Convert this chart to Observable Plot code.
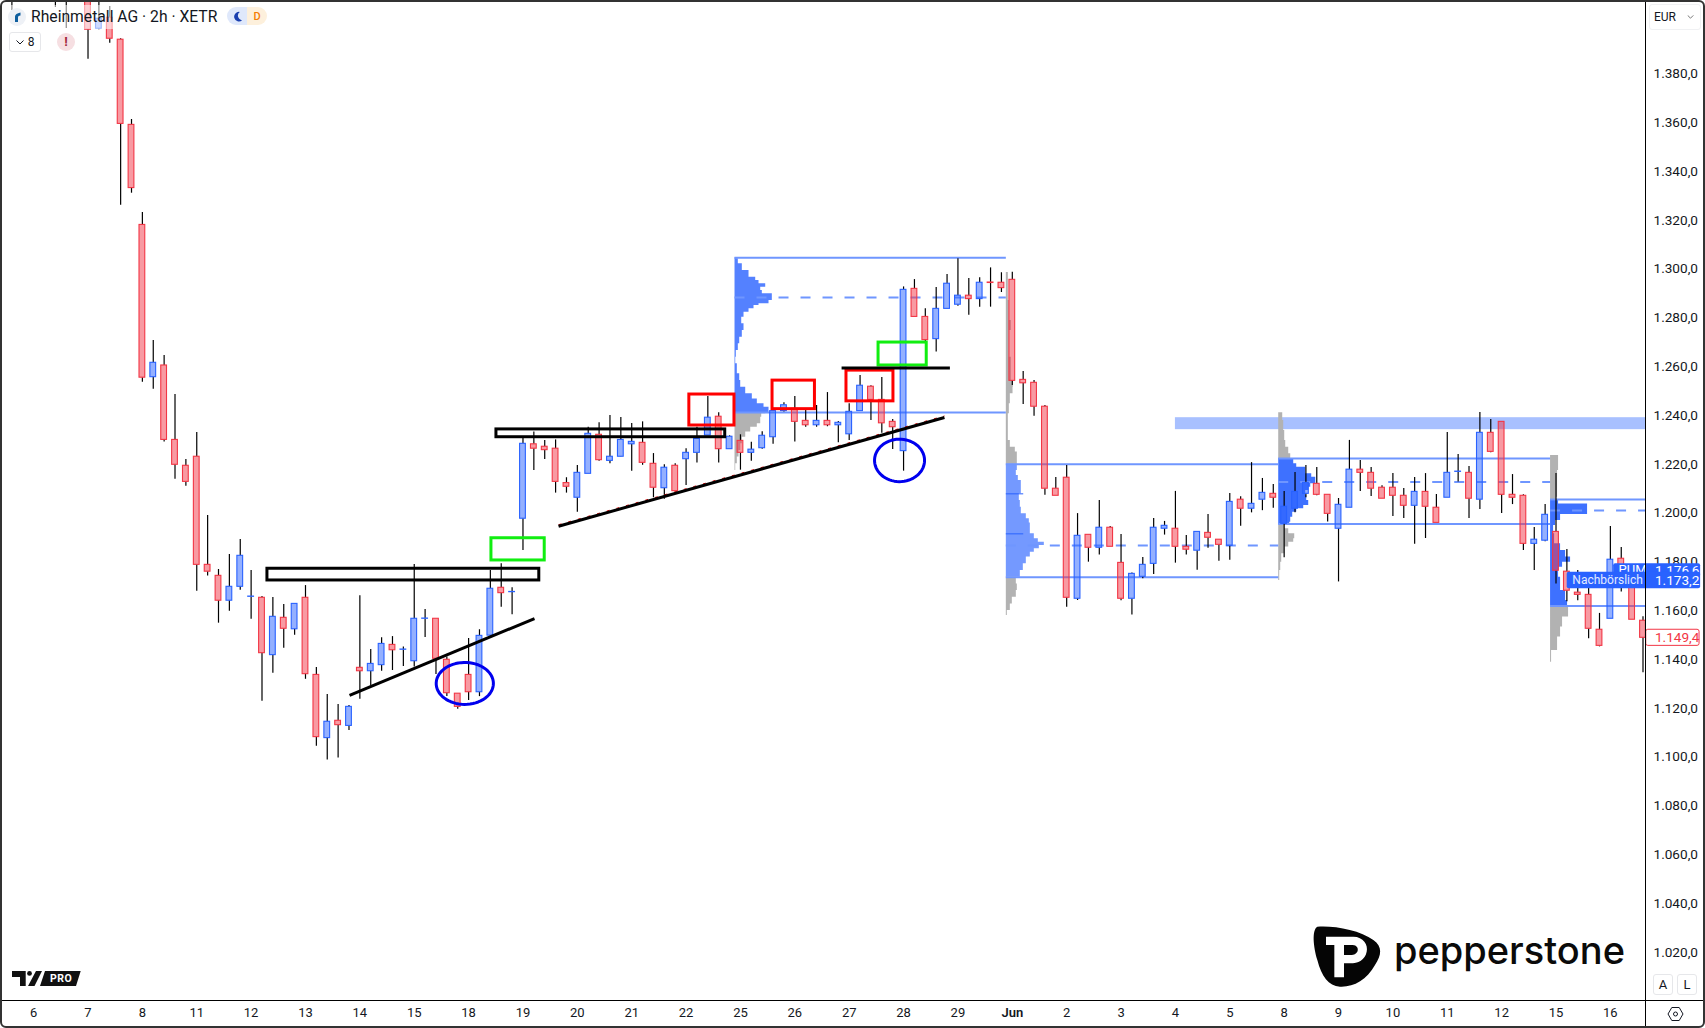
<!DOCTYPE html>
<html><head><meta charset="utf-8">
<script src="https://cdn.jsdelivr.net/npm/d3@7"></script>
<script src="https://cdn.jsdelivr.net/npm/@observablehq/plot@0.6"></script>
<style>
html,body{margin:0;padding:0;background:#fff;overflow:hidden}
#wrap{position:relative;width:1705px;height:1028px;font-family:Roboto,sans-serif;color:#131722}
#wrap svg.plot{display:block}
.abs{position:absolute}
.frame{left:0;top:0;width:1705px;height:1028px;box-sizing:border-box;border:2px solid #333;border-radius:6px;pointer-events:none}
.btn{border:1px solid #e6e7ea;border-radius:3px;box-sizing:border-box;display:flex;align-items:center;justify-content:center;background:#fff}
</style></head><body><div id="wrap"></div>
<script>
// ---------- candle data (EUR) ----------
const bars=[0,4,5,...d3.range(7,151)];
const opens=[1422,1420,1420,1415,
1398.5,1403,1394,1359.1,1318.1,1255.7,1260.5,1230,1219.4,1223.1,1178.8,1174.3,1164.1,1169.8,1165.7,1165.3,1141.8,1157.1,1152.4,1165.3,1133.7,1107.8,1114.9,1112.8,1136.6,1135.2,1137.7,1146,1144,1139.3,1156.7,1156.7,1139.9,1126,1133.7,1126.6,1149.8,1169.4,1167.6,1197.7,1228.2,1227.2,1226.4,1212.3,1206.3,1216.1,1232.1,1221.4,1223.1,1228.2,1228.8,1220.2,1210.2,1219.4,1222.1,1224.7,1231.8,1239.5,1226.2,1229.6,1224.7,1226.6,1231.1,1241.8,1242.7,1237.8,1236,1237.8,1236,1232.3,1241.8,1251.8,1246.4,1237.4,1225.4,1291.9,1280.4,1271.3,1283.7,1285.4,1289.1,1287.7,1294.5,1294.4,1295.6,1254.6,1253.4,1243.6,1210,1214.5,1164.9,1191.1,1185.8,1194,1179.6,1164.9,1173.9,1179.2,1193.6,1193.6,1186.2,1184.6,1191.9,1189.1,1186.6,1205.5,1201.8,1205.5,1207.9,1195.6,1201.8,1207.9,1212,1207.5,1193.6,1202.2,1217.8,1216.5,1210.4,1210.4,1207.1,1203,1208.7,1202.2,1206.3,1216.9,1216.5,1205.5,1232.9,1237.4,1207.5,1207.1,1187.4,1188.7,1192.3,1176,1167.4,1166.5,1152.2,1156.7,1181.3,1173.6,1155.9];
const closes=[1414,1412,1414,1398.1,
1402.6,1394.4,1359.5,1333.2,1255.5,1261.6,1230,1219.8,1212.8,1178.8,1176,1164.1,1169.8,1182.5,1165.8,1142.6,1157.5,1152.6,1162.8,1134,1108.2,1114.5,1113.1,1120.6,1135.2,1138.2,1146.4,1143.8,1144.1,1156.7,1156.8,1140.3,1126.2,1120.6,1126.6,1149.7,1169,1167.2,1167.7,1228.4,1226.4,1225.8,1212.8,1210.8,1216.5,1232.5,1221.7,1223.1,1230,1229.2,1220.6,1210.4,1218.6,1209,1224.7,1230.4,1239.1,1226.2,1231.3,1224.7,1226,1231.7,1241.8,1244.2,1237.4,1236,1237.8,1236,1237,1241.5,1252.2,1246.4,1236.8,1235.2,1291.5,1280.4,1270.9,1283.7,1294,1289.1,1287.7,1294.4,1294.3,1292.2,1254.2,1253.2,1243.6,1210,1207.1,1165.3,1190.7,1185.8,1194,1186.2,1164.9,1175.1,1178.8,1194,1194.8,1186.2,1185,1192.3,1189.9,1187,1204.6,1201.8,1203.8,1208.3,1206.3,1202.6,1208.7,1212.4,1207.5,1199.7,1203.4,1217.8,1216.5,1210,1205.9,1207.1,1203,1208.7,1202.6,1196,1216.5,1217,1205.9,1232.9,1225.1,1207.5,1206.3,1187.4,1189.1,1199.3,1176.4,1168.2,1166.5,1152.6,1145.6,1180.9,1174.4,1156.3,1148.9];
const highs=[1425,1425,1425,1425,
1425,1407.6,1394.4,1361.3,1323.2,1270.7,1264.6,1248.6,1222,1233,1199,1176.9,1183,1189.2,1176.5,1165.8,1165.4,1162.6,1162.8,1170.3,1136.7,1125.7,1121.6,1121.2,1166.1,1144.1,1148.9,1149.4,1145.1,1178.9,1160.5,1156.7,1141,1126,1148.6,1152.2,1176.5,1179.2,1169.4,1231.1,1233.2,1229.8,1230,1214.5,1219.5,1235.2,1237,1240,1239.2,1236.7,1237.4,1224.4,1219.8,1220.2,1226.4,1235.2,1247.8,1241.1,1231.7,1232.1,1229,1233.3,1241.8,1245.2,1247.8,1242.1,1244.1,1249.4,1237.5,1244.8,1256.4,1252.2,1255.6,1238.4,1292.7,1295.7,1283.7,1292.5,1297.8,1304.2,1296.1,1296.5,1300.5,1298.5,1298.7,1258,1254.3,1244.1,1214.6,1219.5,1199.8,1191.1,1205.2,1194.5,1191.2,1175.5,1181.8,1197.8,1196.6,1208.9,1190.8,1192.3,1199.4,1189.1,1208,1206.7,1220.7,1214.2,1211.7,1208.9,1216.6,1219.5,1218.7,1207.5,1206,1229.8,1221.6,1218.7,1211.2,1216.2,1210.1,1214.6,1216.2,1207.6,1233,1224,1219.1,1241.2,1238.4,1237.4,1215.8,1207.5,1194.1,1203.5,1216.2,1185.1,1176.5,1169.6,1158.9,1194.5,1185.9,1173.6,1157.5];
const lows=[1406,1407.2,1398.6,1386,
1398.1,1392.6,1326.2,1331.1,1253.6,1250.8,1229.1,1213.9,1211,1168,1174.2,1154.9,1159.8,1168.4,1156.5,1122.9,1134.4,1144.6,1150,1131.9,1104.5,1098.8,1099.6,1110.9,1123.7,1129.4,1135.2,1135.5,1137.1,1136.9,1149,1133.9,1124.8,1119.6,1123.2,1124.8,1149.8,1161.4,1158.4,1184.7,1217.5,1222,1208.2,1208.2,1200.4,1216.1,1221.3,1220.2,1223,1217.2,1219.6,1206.3,1205.7,1209,1211.3,1220.5,1231.8,1220.5,1226.2,1217.6,1221.3,1226.2,1228.2,1241.4,1229.1,1235.2,1235.2,1235.4,1228.8,1229.8,1241.8,1238,1232.7,1226.1,1217.2,1280.4,1270.3,1266,1283.7,1284.8,1281.1,1284.4,1284.4,1290.4,1252.3,1244.5,1239.7,1207.3,1207.1,1161.4,1164.2,1179.9,1182.8,1186.2,1164.1,1158.2,1173.1,1174.8,1191,1179.5,1182.8,1176.6,1185.6,1180.3,1180.7,1194.6,1200.1,1201,1202,1181.7,1200.1,1206.3,1207.1,1196.4,1171.8,1202.2,1208.9,1206.8,1205.9,1198.6,1197.8,1187.2,1189.6,1196,1206.3,1212.8,1197.8,1201.5,1224.7,1199.8,1203.5,1184.7,1176.5,1188.3,1171,1163.7,1164.1,1148.5,1145.2,1156.7,1167.7,1156.3,1134.6];

// ---------- axes ----------
const dayLabels=["6","7","8","11","12","13","14","15","18","19","20","21","22","25","26","27","28","29","Jun","2","3","4","5","8","9","10","11","12","15","16"];
const dayBars=dayLabels.map((_,k)=>2+5*k);
const priceTicks=d3.range(1020,1381,20);

// ---------- volume profiles: price rows and volume ----------
const p1AnchorBar=66.5, p1High=1304.6, p1Low=1241.2, p1Poc=1288.4, p1EndBar=91.45;
const p1BluePrices=[1304.6,1304.2,1302.2,1299.4,1296.7,1295.3,1294,1292.6,1291.2,1289.9,1288.5,1287.1,1285.8,1285.1,1283.7,1282.3,1280.3,1277.6,1274.8,1272.1,1269.4,1266.6,1263.9,1261.2,1257.1,1254.3,1251.6,1248.9,1246.8,1244.8,1243.4,1242.1,1241.2];
const p1BlueVols=[1,1.7,3.3,7.3,14,20.7,24,30.7,25.7,27.3,37.3,37.3,34,24,19,14,9,6.7,9,7.3,4.7,3.3,1.3,.7,2.3,4.7,5.7,10.7,17.3,22.3,29,34,34];
const p1GrayPrices=[1241.2,1240.7,1239.3,1237.9,1236.6,1235.2,1233.2,1231.1,1228.4,1225.7,1223,1220.2,1217.5];
const p1GrayVols=[34,30.7,26.7,25.7,25.7,22.3,15.7,10.7,7.3,5.7,4,2.3,.7];

const p2AnchorBar=91.45, p2High=1220, p2Low=1173.7, p2Poc=1186.7, p2EndBar=116.5;
const p2InnerRows=[1207.9,1191.5];
const p2GrayTopPrices=[1298.6,1295.3,1287.1,1283,1278.9,1274.8,1269.5,1263.9,1258.4,1254.3,1251.6,1248.9,1244.8,1240.7,1235.2,1229.8,1227,1225,1222.3,1220];
const p2GrayTopVols=[1,2,2,3,3,5,3,3,5,5,7,6.7,4,3,2,2,4,9,11,11];
const p2BluePrices=[1220,1217.5,1215.4,1213.4,1210.6,1207.9,1205.2,1202.4,1199.7,1197.7,1196,1193.6,1191.5,1189.5,1188.1,1186.7,1185.4,1184,1182,1179.2,1176.5,1173.7];
const p2BlueVols=[11,11,10,12,15,15,13,14,15,20,23,24,24,28,32,38,33,28,24,20,17,14];
const p2GrayBotPrices=[1173.7,1171,1168.3,1165.5,1162.8,1160.1,1158];
const p2GrayBotVols=[8,10,11,10,6,4,1];

const p3AnchorBar=116.5, p3High=1222.4, p3Low=1195.5, p3Poc=1212.7, p3EndBar=141.5;
const p3GrayTopPrices=[1241.1,1238,1233.9,1229.8,1227,1224.3,1222.4];
const p3GrayTopVols=[1,4,5,6,7,10,12];
const p3BluePrices=[1222.4,1220.2,1218.8,1217.5,1216.1,1214.7,1213.4,1212,1210.6,1209.3,1207.2,1205.2,1203.1,1201.8,1200.4,1198.3,1196.3,1195.3];
const p3BlueVols=[12,15,18,27,27,33,37,37,32,30,27,28,30,25,18,14,12,11];
const p3GrayBotPrices=[1195.3,1193.6,1191.5,1189.5,1188.1,1186.1,1183.3,1179.9,1176.5,1172.4];
const p3GrayBotVols=[5,6,10,16,15,10,6,3,2,1];

const p4AnchorBar=141.5, p4High=1205.6, p4Low=1161.9, p4Poc=1201.1;
const p4GrayTopPrices=[1223.6,1217.5,1212.1,1206.5,1205.6];
const p4GrayTopVols=[5,8,7,7,6];
const p4BluePrices=[1205.6,1203.7,1203.6,1199.4,1199,1197,1194.9,1191.5,1187.4,1184.7,1182,1179.9,1177.8,1173.7,1168.3,1164.2,1161.9];
const p4BlueVols=[8,8,37,37,10,10,5,3,4,10,15,20,12,8,10,15,17];
const p4GrayBotPrices=[1161.5,1158.7,1157.4,1153.3,1149.2,1143.7,1138.9];
const p4GrayBotVols=[12,18,18,12,10,7,1];

// ---------- annotations drawn on the chart ----------
const blackBoxes=[{x1:23.5,x2:48.5,y1:1177.2,y2:1172.4},{x1:44.56,x2:65.6,y1:1234.3,y2:1231.1}];
const greenBoxes=[{x1:44.1,x2:49,y1:1189.7,y2:1180.6},{x1:79.7,x2:84.13,y1:1269.9,y2:1260.5}];
const redBoxes=[{x1:62.3,x2:66.45,y1:1248.6,y2:1235.9},{x1:69.95,x2:73.85,y1:1254.3,y2:1242.6},{x1:76.75,x2:81.07,y1:1258.4,y2:1245.8}];
const trendLines=[{x1:31.05,y1:1125.3,x2:48.06,y2:1156.8},{x1:50.27,y1:1194.6,x2:85.76,y2:1239.2},{x1:76.3,y1:1259.5,x2:86.26,y2:1259.5}];
const redTrendLines=[{x1:50.27,y1:1194.6,x2:85.76,y2:1239.2}];
const ellipses=[{cx:41.65,cy:1130.2,rx:2.63,ry:8.6},{cx:81.63,cy:1221.6,rx:2.3,ry:8.7}];
const zoneBand={x1:107,x2:150.23,y1:1239.1,y2:1234.2};

// ---------- helpers ----------
const candles=bars.map((b,i)=>({bar:b,open:opens[i],close:closes[i],high:highs[i],low:lows[i],up:closes[i]>=opens[i]}));
const fmt=d3.formatLocale({decimal:",",thousands:".",grouping:[3],currency:["","€"]}).format(",.1f");
const VOL_SCALE=1/10.874;   // volume unit to bar units
const BLUE="#2962ff", RED="#f23645", LEVEL="#6f96ff", GRAY="#b2b2b2";

function profile(prices,vols,anchor,fill,opacity){
  const rows=prices.map((p,i)=>({p,v:vols[i]}));
  return Plot.areaX(rows,{y:"p",x1:()=>anchor,x2:d=>anchor+d.v*VOL_SCALE,fill,fillOpacity:opacity,curve:"step-after",clip:true});
}
function levels(x1,x2,hi,lo,poc){
  return [
    Plot.ruleY([hi,lo],{x1,x2,stroke:LEVEL,strokeWidth:2,clip:true}),
    Plot.ruleY([poc],{x1,x2,stroke:LEVEL,strokeWidth:2,strokeDasharray:"10 12",clip:true})
  ];
}
function ellipsePoints(e){
  return d3.range(0,2*Math.PI+0.05,0.1).map(t=>({x:e.cx+e.rx*Math.cos(t),y:e.cy+e.ry*Math.sin(t)}));
}

const chart=Plot.plot({
  width:1705,height:1028,marginLeft:2,marginRight:60,marginTop:2,marginBottom:28,
  style:{fontFamily:"Roboto,sans-serif",fontSize:"13px",color:"#131722",background:"transparent",overflow:"visible"},
  x:{domain:[-0.864,150.23],axis:null},
  y:{domain:[1000.27,1409.25],axis:null},
  marks:[
    Plot.axisX(dayBars.filter((_,k)=>dayLabels[k]!=="Jun"),{anchor:"bottom",tickSize:0,tickPadding:7,fontSize:13,label:null,
      tickFormat:d=>dayLabels[(d-2)/5]}),
    Plot.axisX([92],{anchor:"bottom",tickSize:0,tickPadding:7,fontSize:13,fontWeight:600,label:null,tickFormat:()=>"Jun"}),
    Plot.axisY(priceTicks,{anchor:"right",tickSize:0,tickPadding:8,fontSize:13.6,label:null,tickFormat:fmt}),

    // horizontal zone
    Plot.rect([zoneBand],{x1:"x1",x2:"x2",y1:"y1",y2:"y2",fill:"#a8c0ff"}),

    // volume profiles
    profile(p1GrayPrices,p1GrayVols,p1AnchorBar,GRAY,1),
    profile(p1BluePrices,p1BlueVols,p1AnchorBar,BLUE,.8),
    profile(p2GrayTopPrices,p2GrayTopVols,p2AnchorBar,GRAY,1),
    profile(p2BluePrices,p2BlueVols,p2AnchorBar,BLUE,.65),
    profile(p2GrayBotPrices,p2GrayBotVols,p2AnchorBar,GRAY,1),
    profile(p3GrayTopPrices,p3GrayTopVols,p3AnchorBar,GRAY,1),
    profile(p3BluePrices,p3BlueVols,p3AnchorBar,BLUE,.9),
    profile(p3GrayBotPrices,p3GrayBotVols,p3AnchorBar,GRAY,1),
    profile(p4GrayTopPrices,p4GrayTopVols,p4AnchorBar,GRAY,1),
    profile(p4BluePrices,p4BlueVols,p4AnchorBar,BLUE,.9),
    profile(p4GrayBotPrices,p4GrayBotVols,p4AnchorBar,GRAY,1),
    Plot.ruleY(p2InnerRows,{x1:p2AnchorBar,x2:p2AnchorBar+1.6,stroke:BLUE,strokeWidth:1}),

    // levels
    ...levels(p1AnchorBar,p1EndBar,p1High,p1Low,p1Poc),
    ...levels(p2AnchorBar,p2EndBar,p2High,p2Low,p2Poc),
    ...levels(p3AnchorBar,p3EndBar,p3High,p3Low,p3Poc),
    ...levels(p4AnchorBar,150.23,p4High,p4Low,p4Poc),

    // candles: wicks then bodies
    Plot.ruleX(candles,{x:"bar",y1:"high",y2:d=>Math.max(d.open,d.close),stroke:"#000",strokeWidth:1.2,clip:true}),
    Plot.ruleX(candles,{x:"bar",y1:"low",y2:d=>Math.min(d.open,d.close),stroke:"#000",strokeWidth:1.2,clip:true}),
    Plot.rect(candles,{x1:d=>d.bar-0.265,x2:d=>d.bar+0.265,y1:"open",y2:"close",
      fill:d=>d.up?BLUE:RED,fillOpacity:.5,stroke:d=>d.up?BLUE:RED,strokeWidth:1.1,clip:true}),

    // annotations
    Plot.rect(blackBoxes,{x1:"x1",x2:"x2",y1:"y1",y2:"y2",fill:"none",stroke:"#000",strokeWidth:3}),
    Plot.rect(greenBoxes,{x1:"x1",x2:"x2",y1:"y1",y2:"y2",fill:"none",stroke:"#11ee11",strokeWidth:3}),
    Plot.rect(redBoxes,{x1:"x1",x2:"x2",y1:"y1",y2:"y2",fill:"none",stroke:"#ff0000",strokeWidth:3}),
    Plot.link(redTrendLines,{x1:"x1",y1:"y1",x2:"x2",y2:"y2",stroke:"#e00000",strokeWidth:1,strokeDasharray:"3 7",dy:-1.6}),
    Plot.link(trendLines,{x1:"x1",y1:"y1",x2:"x2",y2:"y2",stroke:"#000",strokeWidth:3}),
    Plot.line(ellipsePoints(ellipses[0]),{x:"x",y:"y",stroke:"#0000ee",strokeWidth:3,curve:"linear"}),
    Plot.line(ellipsePoints(ellipses[1]),{x:"x",y:"y",stroke:"#0000ee",strokeWidth:3,curve:"linear"}),

    // price tags on the axis
    Plot.rect([{}],{x1:147.3,x2:155.3,y1:1179.2,y2:1173.6,fill:BLUE,rx:2}),
    Plot.text(["PUM"],{x:147.75,y:1176.6,textAnchor:"start",fill:"#fff",fontSize:13}),
    Plot.text([fmt(1176.6)],{x:151.1,y:1176.6,textAnchor:"start",fill:"#fff",fontSize:13.6}),
    Plot.rect([{}],{x1:143.03,x2:155.3,y1:1175.8,y2:1169,fill:BLUE,rx:2}),
    Plot.text(["Nachbörslich"],{x:143.5,y:1172.4,textAnchor:"start",fill:"#e3ebff",fontSize:12}),
    Plot.text([fmt(1173.2)],{x:151.1,y:1172.4,textAnchor:"start",fill:"#fff",fontSize:13.6}),
    Plot.rect([{}],{x1:150.3,x2:155.2,y1:1152.2,y2:1145.6,fill:"#fff",stroke:RED,rx:2}),
    Plot.text([fmt(1149.4)],{x:151.1,y:1148.9,textAnchor:"start",fill:RED,fontSize:13.6})
  ]
});
const wrap=document.getElementById("wrap");
wrap.appendChild(chart);

// chart furniture above the plot
wrap.insertAdjacentHTML("beforeend",`
<div class="abs" style="left:1645px;top:2px;width:1px;height:1024px;background:#000"></div>
<div class="abs" style="left:2px;top:1000px;width:1701px;height:1px;background:#000"></div>

<div class="abs" style="left:6px;top:5px;width:262px;height:24px;background:rgba(255,255,255,.55);border-radius:4px"></div>
<svg class="abs" style="left:8px;top:8px" width="18" height="18" viewBox="0 0 18 18"><circle cx="9" cy="9" r="9" fill="#eef1f6"/><path d="M7 14V8.5C7 6.5 9 5.2 12.5 4.5V7.5C10.8 7.8 10 8.2 10 9.5V14Z" fill="#0f5f9e"/></svg>
<div class="abs" style="left:31px;top:7px;font-size:15.7px;line-height:20px;white-space:nowrap">Rheinmetall AG · 2h · XETR</div>
<div class="abs" style="left:227px;top:7px;width:40px;height:18px;border-radius:9px;overflow:hidden;display:flex">
  <div style="width:20px;background:#dfe8fb;display:flex;align-items:center;justify-content:center"><svg width="11" height="11" viewBox="0 0 12 12"><path d="M8.5 1A5.2 5.2 0 1 0 11 10 5 5 0 0 1 8.5 1Z" fill="#1a3fb0"/></svg></div>
  <div style="width:20px;background:#fdf0dc;color:#f57c00;font-size:11px;font-weight:500;display:flex;align-items:center;justify-content:center">D</div>
</div>
<div class="abs btn" style="left:9px;top:32px;width:32px;height:20px;font-size:12px;background:#fff;gap:4px"><svg width="8" height="5" viewBox="0 0 8 5"><path d="M.5 .5 4 4 7.5 .5" fill="none" stroke="#131722"/></svg>8</div>
<div class="abs" style="left:57px;top:33px;width:18px;height:18px;border-radius:9px;background:#f6dfe2;color:#a3283c;font-size:13px;font-weight:700;line-height:18px;text-align:center">!</div>

<div class="abs btn" style="left:1649px;top:4px;width:52px;height:26px;border-color:#f0f1f3;font-size:12px;justify-content:flex-start;padding-left:4px;gap:11px">EUR<svg width="7" height="4" viewBox="0 0 8 5"><path d="M.5 .5 4 4 7.5 .5" fill="none" stroke="#555"/></svg></div>
<div class="abs btn" style="left:1653px;top:974px;width:20px;height:21px;font-size:13px">A</div>
<div class="abs btn" style="left:1677px;top:974px;width:20px;height:21px;font-size:13px">L</div>
<svg class="abs" style="left:1667px;top:1006px" width="17" height="16" viewBox="0 0 17 16"><path d="M1 8 4.8 1.5H12.2L16 8 12.2 14.5H4.8Z" fill="none" stroke="#131722"/><circle cx="8.5" cy="8" r="2" fill="none" stroke="#131722"/></svg>

<svg class="abs" style="left:8px;top:966px" width="80" height="24" viewBox="8 966 80 24">
  <path d="M12 971H25.7V986H20V977H12Z" fill="#111"/><circle cx="29.5" cy="973.4" r="2.4" fill="#111"/>
  <path d="M36 971H42L34.5 986H28Z" fill="#111"/><path d="M45 971H80.7L76 986H40Z" fill="#111"/>
  <text x="50" y="982.3" fill="#fff" font-family="Roboto,sans-serif" font-size="10.5" font-weight="700" letter-spacing=".5">PRO</text>
</svg>

<svg class="abs" style="left:1200px;top:880px" width="505" height="148" viewBox="0 0 1515 444">
  <path d="M352 140C400 136 480 150 520 180C548 200 545 225 525 255C500 300 460 322 420 320C385 318 365 290 352 240C340 200 335 150 352 140Z" fill="#050505"/>
  <path d="M378 170H460C490 170 505 195 500 215C495 240 475 250 450 250H432V292H403V195H378Z" fill="#fff"/>
  <path d="M432 195H458C470 195 475 205 473 212C471 220 462 225 452 225H432Z" fill="#050505"/>
</svg>
<div class="abs" style="left:1394px;top:927px;font-family:Inter,sans-serif;font-size:38px;font-weight:500;line-height:46px;color:#0a0a0a;white-space:nowrap">pepperstone</div>
<div class="abs frame"></div>
`);
</script></body></html>
